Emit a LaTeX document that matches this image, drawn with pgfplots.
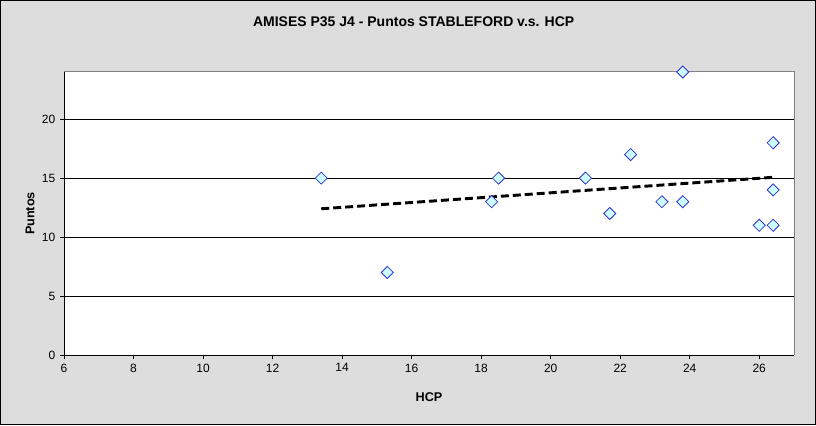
\documentclass[border=0pt]{standalone}
\usepackage{pgfplots}
\pgfplotsset{compat=1.18}
\usepackage{fontspec}
\setmainfont{Liberation Sans}
\definecolor{bggray}{RGB}{221,221,221}
\definecolor{mkfill}{RGB}{204,255,255}
\definecolor{mkedge}{RGB}{51,51,204}
\definecolor{framegray}{RGB}{128,128,128}
\begin{document}
\begin{tikzpicture}
\fill[bggray] (0,0) rectangle (612pt,318.75pt);
\draw[black,line width=0.75pt] (0.375pt,0.375pt) rectangle (611.625pt,318.375pt);
\begin{axis}[
  at={(48pt,52.5pt)}, anchor=south west,
  scale only axis, width=547.5pt, height=212.25pt,
  xmin=6, xmax=27, ymin=0, ymax=24,
  xtick={6,8,...,26}, ytick={0,5,...,20},
  axis background/.style={fill=white},
  axis line style={framegray},
  axis x line*=bottom, axis y line*=left,
  tick align=outside, major tick length=3pt,
  tick style={black, line width=0.75pt},
  ymajorgrids, grid style={black, line width=0.75pt},
  /pgf/number format/assume math mode=true,
  tick label style={font=\fontsize{9}{10}\selectfont},
  xlabel={HCP}, ylabel={Puntos},
  label style={font=\bfseries\fontsize{9.5}{11}\selectfont},
  xlabel style={at={(axis description cs:0.5,-0.1484)}, anchor=center},
  ylabel style={at={(axis description cs:-0.0466,0.5)}, anchor=center},
  title={AMISES P35 J4 - Puntos STABLEFORD v.s. HCP},
  every axis title shift=0pt,
  title style={at={(axis description cs:0.479,1.1767)}, anchor=center, font=\bfseries\fontsize{10.5}{12}\selectfont},
  clip=false,
]
\draw[framegray, line width=0.75pt] (rel axis cs:0,1) -- (rel axis cs:1,1) -- (rel axis cs:1,0);
\draw[black, line width=0.75pt] (rel axis cs:0,0) -- (rel axis cs:1,0);
\draw[black, line width=0.75pt] (rel axis cs:0,0) -- (rel axis cs:0,1);
\addplot[black, line width=2.2pt, dash pattern=on 6pt off 3pt, forget plot] coordinates {(13.4,12.40) (26.4,15.07)};
\addplot[only marks, mark=square*, mark options={rotate=45, fill=mkfill, draw=mkedge, line width=0.6pt}, mark size=3.2pt] coordinates {
(13.4,15) (15.3,7) (18.3,13) (18.5,15) (21.0,15) (21.7,12) (22.3,17)
(23.2,13) (23.8,13) (23.8,24) (26.0,11) (26.4,11) (26.4,14) (26.4,18)
};
\end{axis}
\end{tikzpicture}
\end{document}
